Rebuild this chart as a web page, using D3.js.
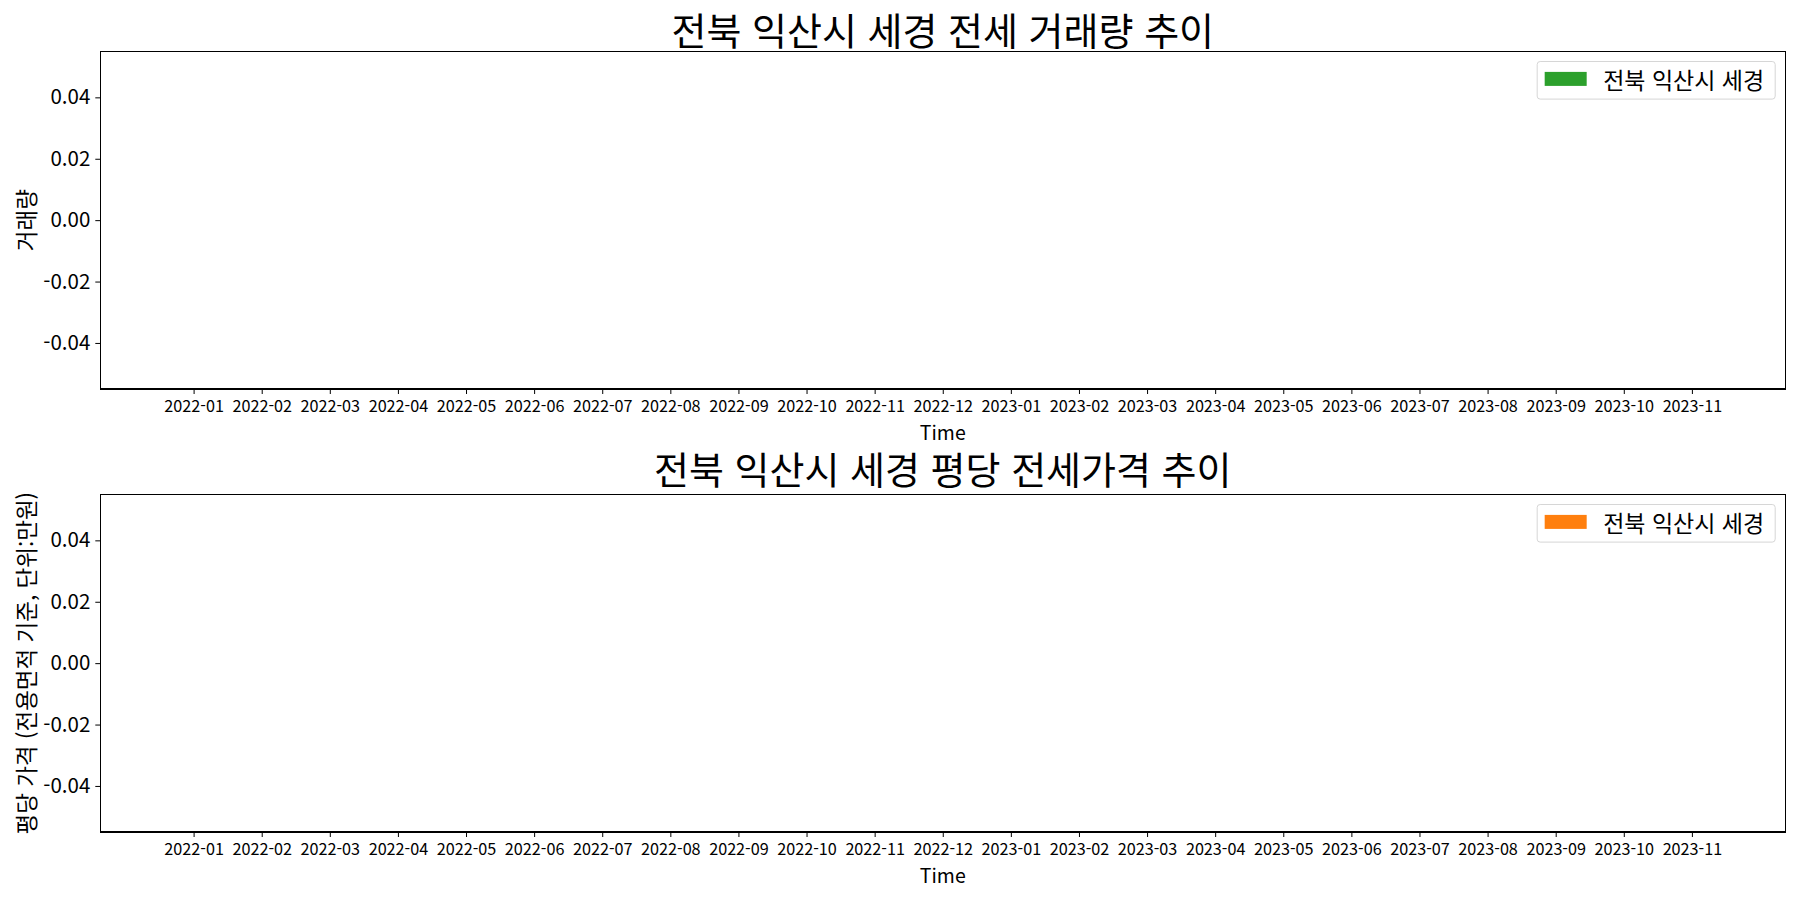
<!DOCTYPE html>
<html lang="ko">
<head>
<meta charset="utf-8">
<script src="https://cdn.jsdelivr.net/npm/d3@7"></script>
<style>
  body { margin: 0; background: #ffffff; }
  svg { display: block; font-family: "Noto Sans CJK KR", "Noto Sans", sans-serif; }
</style>
</head>
<body>
<svg id="chart" width="1800" height="900"></svg>
<script>
const regionName = "전북 익산시 세경";

const months = [
  "2022-01", "2022-02", "2022-03", "2022-04", "2022-05", "2022-06",
  "2022-07", "2022-08", "2022-09", "2022-10", "2022-11", "2022-12",
  "2023-01", "2023-02", "2023-03", "2023-04", "2023-05", "2023-06",
  "2023-07", "2023-08", "2023-09", "2023-10", "2023-11",
];

// both series are empty in the source chart (no bars drawn)
const volumeMonths = [];
const volumeValues = [];
const priceMonths = [];
const priceValues = [];

const yTicks = [-0.04, -0.02, 0.0, 0.02, 0.04];
const yDomain = [-0.055, 0.055];

const frameLeft = 100.3;
const frameRight = 1785.2;
const panelHeight = 337.7;

const fmt = d3
  .formatLocale({ decimal: ".", thousands: ",", grouping: [3], currency: ["", ""], minus: "-" })
  .format(".2f");

const svg = d3.select("#chart");

const toSeries = (labels, values) =>
  labels.map((m, i) => ({ month: m, value: values[i] }));

function drawPanel(cfg) {
  const top = cfg.top;
  const bottom = top + panelHeight;

  const x = d3
    .scalePoint()
    .domain(months)
    .range([frameLeft, frameRight])
    .padding(1.37);

  const y = d3.scaleLinear().domain(yDomain).range([bottom, top]);

  const g = svg.append("g");

  // title
  g.append("text")
    .attr("x", (frameLeft + frameRight) / 2)
    .attr("y", cfg.titleY)
    .attr("text-anchor", "middle")
    .attr("dominant-baseline", "central")
    .attr("font-size", 38)
    .attr("fill", "#000")
    .text(cfg.title);

  // bars (empty data)
  const barWidth = x.step() * 0.8;
  g.selectAll(".bar")
    .data(toSeries(cfg.barMonths, cfg.barValues))
    .enter()
    .append("rect")
    .attr("class", "bar")
    .attr("x", (d) => x(d.month) - barWidth / 2)
    .attr("y", (d) => y(Math.max(0, d.value)))
    .attr("width", barWidth)
    .attr("height", (d) => Math.abs(y(d.value) - y(0)))
    .attr("fill", cfg.color);

  // y axis
  g.append("g")
    .attr("transform", "translate(" + frameLeft + ",0)")
    .call(d3.axisLeft(y).tickValues(yTicks).tickFormat(fmt).tickSize(5).tickPadding(5))
    .call((a) => a.select(".domain").remove())
    .call((a) => a.selectAll("line").attr("stroke", "#000").attr("stroke-width", 1))
    .call((a) =>
      a.selectAll("text")
        .attr("font-size", 20.5)
        .attr("font-family", "'Noto Sans CJK KR', sans-serif")
        .attr("fill", "#000")
    );

  // x axis
  g.append("g")
    .attr("transform", "translate(0," + bottom + ")")
    .call(d3.axisBottom(x).tickSize(5).tickPadding(5))
    .call((a) => a.select(".domain").remove())
    .call((a) => a.selectAll("line").attr("stroke", "#000").attr("stroke-width", 1))
    .call((a) =>
      a.selectAll("text")
        .attr("y", 17)
        .attr("dy", "0.36em")
        .attr("font-size", 16.2)
        .attr("font-family", "'Noto Sans CJK KR', sans-serif")
        .attr("fill", "#000")
    );

  // frame
  g.append("rect")
    .attr("x", frameLeft)
    .attr("y", top)
    .attr("width", frameRight - frameLeft)
    .attr("height", panelHeight)
    .attr("fill", "none")
    .attr("stroke", "#000")
    .attr("stroke-width", 1.1)
    .attr("shape-rendering", "crispEdges");

  // axis labels
  g.append("text")
    .attr("x", (frameLeft + frameRight) / 2)
    .attr("y", bottom + 42.5)
    .attr("text-anchor", "middle")
    .attr("dominant-baseline", "central")
    .attr("font-size", 19.5)
    .attr("fill", "#000")
    .text("Time");

  g.append("text")
    .attr("transform", "translate(25," + (top + bottom) / 2 + ") rotate(-90)")
    .attr("text-anchor", "middle")
    .attr("dominant-baseline", "central")
    .attr("font-size", 22.5)
    .attr("fill", "#000")
    .text(cfg.yLabel);

  // legend
  const legend = g.append("g");
  const box = legend.append("rect");
  const label = legend
    .append("text")
    .attr("font-size", 23)
    .attr("dominant-baseline", "central")
    .attr("fill", "#000")
    .text(regionName);
  const textW = label.node().getComputedTextLength();
  const boxW = textW + 66 + 11;
  const boxRight = frameRight - 10;
  const boxLeft = boxRight - boxW;
  box
    .attr("x", boxLeft)
    .attr("y", top + 10.2)
    .attr("width", boxW)
    .attr("height", 37.6)
    .attr("rx", 3)
    .attr("fill", "#fff")
    .attr("fill-opacity", 0.8)
    .attr("stroke", "#d6d6d6")
    .attr("stroke-width", 1);
  legend
    .append("rect")
    .attr("x", boxLeft + 7.5)
    .attr("y", top + 20.6)
    .attr("width", 42)
    .attr("height", 14)
    .attr("fill", cfg.color);
  label.attr("x", boxLeft + 66).attr("y", top + 27.5);
}

drawPanel({
  top: 51.3,
  titleY: 28.5,
  title: "전북 익산시 세경 전세 거래량 추이",
  yLabel: "거래량",
  color: "#2ca02c",
  barMonths: volumeMonths,
  barValues: volumeValues,
});

drawPanel({
  top: 494.3,
  titleY: 467.5,
  title: "전북 익산시 세경 평당 전세가격 추이",
  yLabel: "평당 가격 (전용면적 기준, 단위:만원)",
  color: "#ff7f0e",
  barMonths: priceMonths,
  barValues: priceValues,
});
</script>
</body>
</html>
